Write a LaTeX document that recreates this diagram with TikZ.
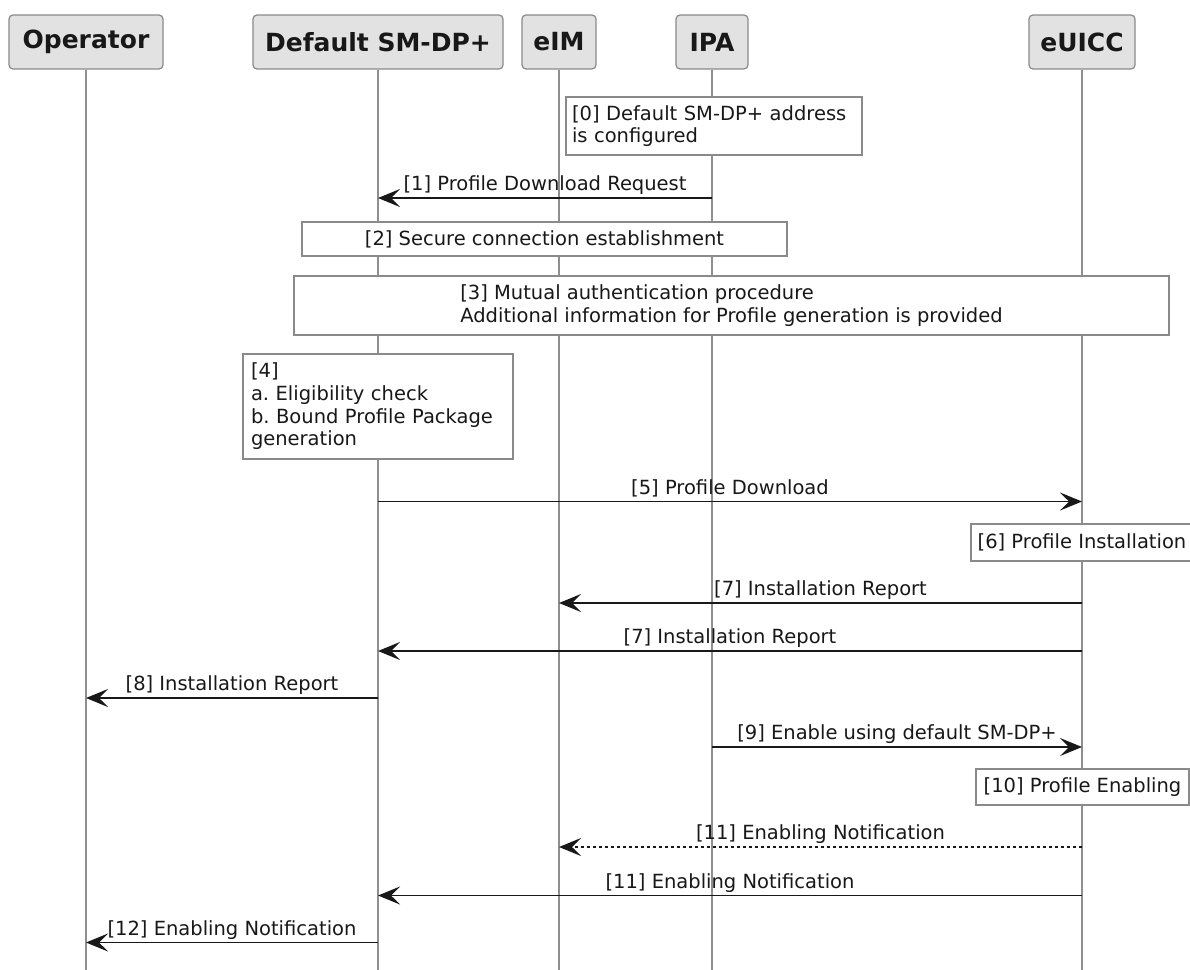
\documentclass[tikz,border=0pt]{standalone}
\usepackage{fontspec}
\setmainfont{DejaVu Sans}
\usetikzlibrary{arrows.meta,calc}
\definecolor{lifegray}{HTML}{8F8F8F}
\definecolor{boxgray}{HTML}{E2E2E2}
\definecolor{edgegray}{HTML}{8A8A8A}
\definecolor{ink}{HTML}{181818}
\frenchspacing
\begin{document}
\begin{tikzpicture}[x=1pt,y=-1pt,
  every node/.style={font=\fontsize{19.5}{22.7}\selectfont, text=ink},
  actor/.style={draw=edgegray, line width=1.2pt, fill=boxgray, rounded corners=4pt,
    minimum height=54pt, inner sep=0pt, font=\fontsize{25}{30}\selectfont\bfseries},
  lifeline/.style={draw=lifegray, line width=1.2pt},
  note/.style={draw=edgegray, line width=1.2pt, fill=white, inner sep=0pt},
  msg/.style={draw=ink, line width=1.6pt, -{Stealth[length=22pt,width=18pt,inset=9pt]}},
  dmsg/.style={msg, dash pattern=on 3pt off 3pt},
  lbl/.style={anchor=base, inner sep=0pt, yshift=7.5pt}]
\useasboundingbox (0,0) rectangle (1190,969);
\fill[white] (0,0) rectangle (1190,969);

% participants
\node[actor, minimum width=154pt] (op) at (86,42) {Operator};
\node[actor, minimum width=250pt] (dp) at (378,42) {Default SM-DP+};
\node[actor, minimum width=74pt] (eim) at (559,42) {eIM};
\node[actor, minimum width=72pt] (ipa) at (712,42) {IPA};
\node[actor, minimum width=106pt] (eu) at (1082,42) {eUICC};

% lifelines
\coordinate (bot) at (0,975);
\draw[lifeline] (op.south) -- (op |- bot);
\draw[lifeline] (dp.south) -- (dp |- bot);
\draw[lifeline] (eim.south) -- (eim |- bot);
\draw[lifeline] (ipa.south) -- (ipa |- bot);
\draw[lifeline] (eu.south) -- (eu |- bot);

% notes
\node[note, minimum width=296pt, minimum height=58pt, inner xsep=6pt, text width=284pt, align=left]
  (n0) at (714,126) {[0] Default SM-DP+ address\\is configured};
\node[note, minimum width=485pt, minimum height=34pt]
  (n2) at (544.5,239) {[2] Secure connection establishment};
\node[note, minimum width=875pt, minimum height=59pt, align=left]
  (n3) at (731.5,305.5) {[3] Mutual authentication procedure\\Additional information for Profile generation is provided};
\node[note, minimum width=270pt, minimum height=105pt, inner xsep=8pt, text width=254pt, align=left]
  (n4) at (378,406.5) {[4]\\a. Eligibility check\\b. Bound Profile Package\\generation};
\node[note, minimum width=222pt, minimum height=37pt]
  (n6) at (1082,542.5) {[6] Profile Installation};
\node[note, minimum width=213pt, minimum height=36pt]
  (n10) at (1082.5,787) {[10] Profile Enabling};

% messages
\coordinate (y1) at (0,198);
\coordinate (y5) at (0,501.5);
\coordinate (y7a) at (0,603);
\coordinate (y7b) at (0,651);
\coordinate (y8) at (0,698);
\coordinate (y9) at (0,747);
\coordinate (y11a) at (0,847);
\coordinate (y11b) at (0,895.5);
\coordinate (y12) at (0,942.5);

\draw[msg] (ipa |- y1) -- (dp |- y1) node[lbl, midway] (l1) {[1] Profile Download Request};
\draw[msg] (dp |- y5) -- (eu |- y5) node[lbl, midway] (l5) {[5] Profile Download};
\draw[msg] (eu |- y7a) -- (eim |- y7a) node[lbl, midway] (l7a) {[7] Installation Report};
\draw[msg] (eu |- y7b) -- (dp |- y7b) node[lbl, midway] (l7b) {[7] Installation Report};
\draw[msg] (dp |- y8) -- (op |- y8) node[lbl, midway] (l8) {[8] Installation Report};
\draw[msg] (ipa |- y9) -- (eu |- y9) node[lbl, midway] (l9) {[9] Enable using default SM-DP+};
\draw[dmsg] (eu |- y11a) -- (eim |- y11a) node[lbl, midway] (l11a) {[11] Enabling Notification};
\draw[msg] (eu |- y11b) -- (dp |- y11b) node[lbl, midway] (l11b) {[11] Enabling Notification};
\draw[msg] (dp |- y12) -- (op |- y12) node[lbl, midway] (l12) {[12] Enabling Notification};
\end{tikzpicture}
\end{document}
